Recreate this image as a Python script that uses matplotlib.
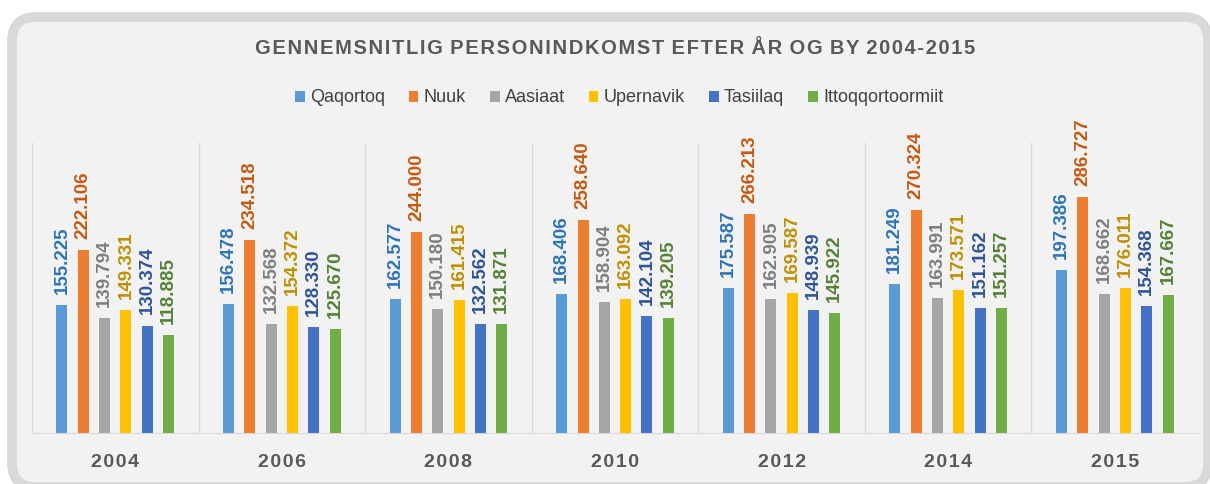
import numpy as np
import matplotlib.pyplot as plt
from matplotlib.patches import FancyBboxPatch
from matplotlib import font_manager

years = ["2004", "2006", "2008", "2010", "2012", "2014", "2015"]
towns = ["Qaqortoq", "Nuuk", "Aasiaat", "Upernavik", "Tasiilaq", "Ittoqqortoormiit"]

# average personal income (1000 kr.) per town, one list per year
qaqortoq = [155.225, 156.478, 162.577, 168.406, 175.587, 181.249, 197.386]
nuuk = [222.106, 234.518, 244.000, 258.640, 266.213, 270.324, 286.727]
aasiaat = [139.794, 132.568, 150.180, 158.904, 162.905, 163.991, 168.662]
upernavik = [149.331, 154.372, 161.415, 163.092, 169.587, 173.571, 176.011]
tasiilaq = [130.374, 128.330, 132.562, 142.104, 148.939, 151.162, 154.368]
ittoqqortoormiit = [118.885, 125.670, 131.871, 139.205, 145.922, 151.257, 167.667]

series = [qaqortoq, nuuk, aasiaat, upernavik, tasiilaq, ittoqqortoormiit]
bar_colors = ["#5b9bd5", "#ed7d31", "#a5a5a5", "#ffc000", "#4472c4", "#70ad47"]
label_colors = ["#2e75b6", "#c55a11", "#7f7f7f", "#bf9000", "#2f5597", "#548235"]

title = "GENNEMSNITLIG PERSONINDKOMST EFTER ÅR OG BY 2004-2015"

# pick a narrow font if there is one
names = {f.name for f in font_manager.fontManager.ttflist}
NARROW = "Liberation Sans Narrow" if "Liberation Sans Narrow" in names else "Liberation Sans"
plt.rcParams["font.family"] = [NARROW, "DejaVu Sans"]

HAIR = "\u200a"


def spaced(s):
    # fake letter spacing with hair spaces
    return (" " + HAIR).join(HAIR.join(w) for w in s.split(" "))


W, H = 1210, 484
fig = plt.figure(figsize=(W / 100, H / 100), dpi=100, facecolor="white")

# background panel in pixel coordinates
bg = fig.add_axes([0, 0, 1, 1], zorder=0)
bg.set_xlim(0, W)
bg.set_ylim(H, 0)
bg.axis("off")
bg.add_patch(FancyBboxPatch((12, 17), 1196, 470,
                            boxstyle="round,pad=0,rounding_size=24",
                            fc="#f2f2f2", ec="#d9d9d9", lw=7))
bg.text(615, 48, spaced(title), ha="center", va="center",
        fontsize=14.5, fontweight="bold", color="#595959")

# main chart
ax = fig.add_axes([32 / W, 1 - 433 / H, (1198 - 32) / W, (433 - 143) / H], zorder=1)
ax.patch.set_alpha(0)
x = np.arange(len(years))
step, width = 0.128, 0.066
handles = []
for i, (vals, bc, lc) in enumerate(zip(series, bar_colors, label_colors)):
    pos = x + (i - 2.5) * step
    b = ax.bar(pos, vals, width, color=bc, label=towns[i], zorder=2)
    handles.append(b)
    for p, v in zip(pos, vals):
        ax.annotate(f"{v:.3f}", (p, v), xytext=(0, 8), textcoords="offset points",
                    rotation=90, ha="center", va="bottom",
                    fontsize=13.5, fontweight="bold", color=lc)

ax.set_xlim(-0.5, len(years) - 0.5)
ax.set_ylim(0, 352)
ax.set_yticks([])
ax.set_xticks(x)
ax.set_xticklabels([spaced(y) for y in years], fontsize=14, fontweight="bold",
                   color="#595959")
ax.set_xticks(np.arange(-0.5, len(years)), minor=True)
ax.tick_params(axis="x", which="both", length=0, pad=15)
ax.grid(axis="x", which="minor", color="#d9d9d9", lw=1, zorder=0)
for s in ["left", "right", "top"]:
    ax.spines[s].set_visible(False)
ax.spines["bottom"].set_color("#d9d9d9")

fig.legend(handles=handles, loc="center", bbox_to_anchor=(619 / W, 1 - 98 / H),
           ncol=6, frameon=False, fontsize=13, labelcolor="#404040",
           handlelength=0.55, handleheight=0.55, handletextpad=0.3,
           columnspacing=1.3)

fig.savefig("out.png", dpi=100, facecolor="white")
